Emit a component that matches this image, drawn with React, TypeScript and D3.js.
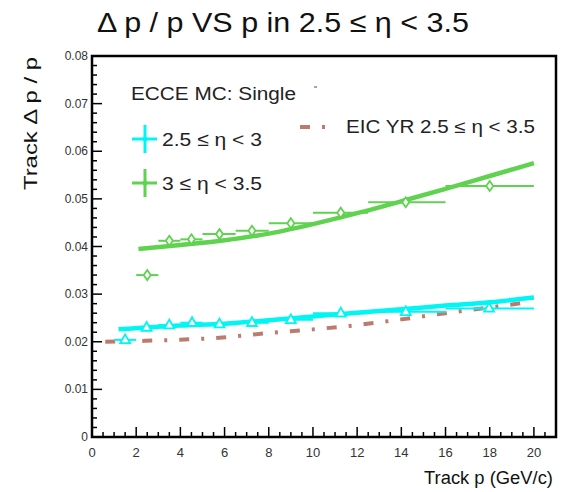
import React from "react";
import * as d3 from "d3";

const W = 569;
const H = 492;

// Data
const cyanP = [1.5, 2.47, 3.5, 4.53, 5.77, 7.24, 9.0, 11.26, 14.2, 17.97];
const cyanLo = [1, 2, 3, 4, 5, 6.5, 8, 10, 12.5, 16];
const cyanHi = [2, 3, 4, 5, 6.5, 8, 10, 12.5, 16, 20];
const cyanV = [0.0204, 0.023, 0.0235, 0.024, 0.0237, 0.024, 0.0246, 0.026, 0.0263, 0.027];

const greenP = [2.5, 3.5, 4.5, 5.77, 7.24, 9.0, 11.26, 14.2, 18.0];
const greenLo = [2, 3, 4, 5, 6.5, 8, 10, 12.5, 16];
const greenHi = [3, 4, 5, 6.5, 8, 10, 12.5, 16, 20];
const greenV = [0.034, 0.0412, 0.0415, 0.0426, 0.0433, 0.0449, 0.0471, 0.0493, 0.0527];

const greenFitP = [2.1, 4, 6, 8, 10, 12, 14, 16, 18, 20];
const greenFitV = [0.0395, 0.0403, 0.0413, 0.0427, 0.0447, 0.047, 0.0495, 0.0521, 0.0548, 0.0575];

const cyanFitP = [1.2, 4, 6, 8, 10, 12, 14, 16, 18, 20];
const cyanFitV = [0.0226, 0.0234, 0.0238, 0.0245, 0.0253, 0.0261, 0.0268, 0.0276, 0.0283, 0.0293];

const yrP = [0.6, 2.4, 5.9, 7.9, 10, 12, 14, 16, 18, 19.9];
const yrV = [0.02, 0.0202, 0.0209, 0.0218, 0.0226, 0.0235, 0.0247, 0.026, 0.0272, 0.0284];

const xTicks = [0, 2, 4, 6, 8, 10, 12, 14, 16, 18, 20];
const yTicks = [0, 0.01, 0.02, 0.03, 0.04, 0.05, 0.06, 0.07, 0.08];
const yTickLabels = ["0", "0.01", "0.02", "0.03", "0.04", "0.05", "0.06", "0.07", "0.08"];

const CYAN = "#00f5f5";
const GREEN = "#5fd24f";
const BROWN = "#bd7b70";
const FONT = "'Liberation Sans', Arial, Helvetica, sans-serif";

export default function App() {
  const left = 92, right = 556, top = 56, bottom = 437;
  const x = d3.scaleLinear().domain([0, 21]).range([left, right]);
  const y = d3.scaleLinear().domain([0, 0.08]).range([bottom, top]);

  const line = d3
    .line<[number, number]>()
    .x((d) => x(d[0]))
    .y((d) => y(d[1]))
    .curve(d3.curveMonotoneX);

  const greenFit = line(greenFitP.map((p, i) => [p, greenFitV[i]]) as [number, number][]) || "";
  const cyanFit = line(cyanFitP.map((p, i) => [p, cyanFitV[i]]) as [number, number][]) || "";
  const yrLine = line(yrP.map((p, i) => [p, yrV[i]]) as [number, number][]) || "";

  const xMinor = d3.range(0, 21.01, 0.5);
  const yMinor = d3.range(0, 0.0801, 0.002);

  const tri = (cx: number, cy: number, s: number) =>
    `M${cx},${cy - s}L${cx + s * 0.9},${cy + s * 0.6}L${cx - s * 0.9},${cy + s * 0.6}Z`;
  const diamond = (cx: number, cy: number) =>
    `M${cx},${cy - 5}L${cx + 3.5},${cy}L${cx},${cy + 5}L${cx - 3.5},${cy}Z`;

  const SG = "spacingAndGlyphs";

  return (
    <svg
      width={W}
      height={H}
      style={{ position: "absolute", left: 0, top: 0, background: "#fff" }}
      fontFamily={FONT}
    >
      <rect x={0} y={0} width={W} height={H} fill="#fff" />
      {/* Title */}
      <text x={97} y={32} fontSize={28} fill="#111" textLength={372} lengthAdjust={SG}>
        Δ p / p VS p in 2.5 ≤ η &lt; 3.5
      </text>

      {/* Frame */}
      <rect x={left} y={top} width={right - left} height={bottom - top} fill="none" stroke="#000" strokeWidth={2.5} />

      {/* X ticks */}
      {xMinor.map((v, i) => {
        const major = Math.abs(v / 2 - Math.round(v / 2)) < 1e-6;
        return (
          <line key={"xm" + i} x1={x(v)} x2={x(v)} y1={bottom} y2={bottom - (major ? 10 : 5)} stroke="#000" strokeWidth={1.5} />
        );
      })}
      {xTicks.map((v) => (
        <text key={"xl" + v} x={x(v)} y={457} textAnchor="middle" fontSize={13} fill="#333">
          {v}
        </text>
      ))}

      {/* Y ticks */}
      {yMinor.map((v, i) => {
        const major = Math.abs(v / 0.01 - Math.round(v / 0.01)) < 1e-6;
        return (
          <line key={"ym" + i} x1={left} x2={left + (major ? 10 : 5)} y1={y(v)} y2={y(v)} stroke="#000" strokeWidth={1.5} />
        );
      })}
      {yTicks.map((v, i) => (
        <text key={"yl" + v} x={88} y={y(v) + 4} textAnchor="end" fontSize={12} fill="#333">
          {yTickLabels[i]}
        </text>
      ))}

      {/* Axis titles */}
      <text x={424} y={484} fontSize={18} fill="#111" textLength={129} lengthAdjust={SG}>
        Track p (GeV/c)
      </text>
      <text
        transform={`translate(37,190) rotate(-90)`}
        fontSize={19}
        fill="#111"
        textLength={133}
        lengthAdjust={SG}
      >
        Track Δ p / p
      </text>

      {/* YR line */}
      <path d={yrLine} fill="none" stroke={BROWN} strokeWidth={4} strokeDasharray="10,12,3,12" />

      {/* Green fit and points */}
      <path d={greenFit} fill="none" stroke={GREEN} strokeWidth={4.5} />
      {greenP.map((p, i) => (
        <g key={"g" + i}>
          <line x1={x(greenLo[i])} x2={x(greenHi[i])} y1={y(greenV[i])} y2={y(greenV[i])} stroke={GREEN} strokeWidth={2} />
          <path d={diamond(x(p), y(greenV[i]))} fill="#fff" stroke={GREEN} strokeWidth={1.8} />
        </g>
      ))}

      {/* Cyan fit and points */}
      <path d={cyanFit} fill="none" stroke={CYAN} strokeWidth={4.5} />
      {cyanP.map((p, i) => (
        <g key={"c" + i}>
          <line x1={x(cyanLo[i])} x2={x(cyanHi[i])} y1={y(cyanV[i])} y2={y(cyanV[i])} stroke={CYAN} strokeWidth={2} />
          <path d={tri(x(p), y(cyanV[i]), 5.5)} fill="#fff" stroke={CYAN} strokeWidth={1.8} />
        </g>
      ))}

      {/* Legend */}
      <text x={131} y={100} fontSize={18} fill="#222" textLength={165} lengthAdjust={SG}>ECCE MC: Single</text>
      <line x1={314} x2={317} y1={87} y2={87} stroke="#888" strokeWidth={1.5} />

      <line x1={132} x2={157} y1={139} y2={139} stroke={CYAN} strokeWidth={3} />
      <line x1={145} x2={145} y1={125} y2={153} stroke={CYAN} strokeWidth={3} />
      <circle cx={145} cy={139} r={2.5} fill={CYAN} />
      <text x={162} y={146} fontSize={19} fill="#222" textLength={100} lengthAdjust={SG}>2.5 ≤ η &lt; 3</text>

      <line x1={132} x2={157} y1={183} y2={183} stroke={GREEN} strokeWidth={3} />
      <line x1={145} x2={145} y1={169} y2={197} stroke={GREEN} strokeWidth={3} />
      <circle cx={145} cy={183} r={2.5} fill={GREEN} />
      <text x={162} y={190} fontSize={19} fill="#222" textLength={100} lengthAdjust={SG}>3 ≤ η &lt; 3.5</text>

      <line x1={300} x2={337} y1={127} y2={127} stroke={BROWN} strokeWidth={4} strokeDasharray="10,12,3,12" />
      <text x={346} y={133} fontSize={18} fill="#222" textLength={189} lengthAdjust={SG}>EIC YR 2.5 ≤ η &lt; 3.5</text>
    </svg>
  );
}
